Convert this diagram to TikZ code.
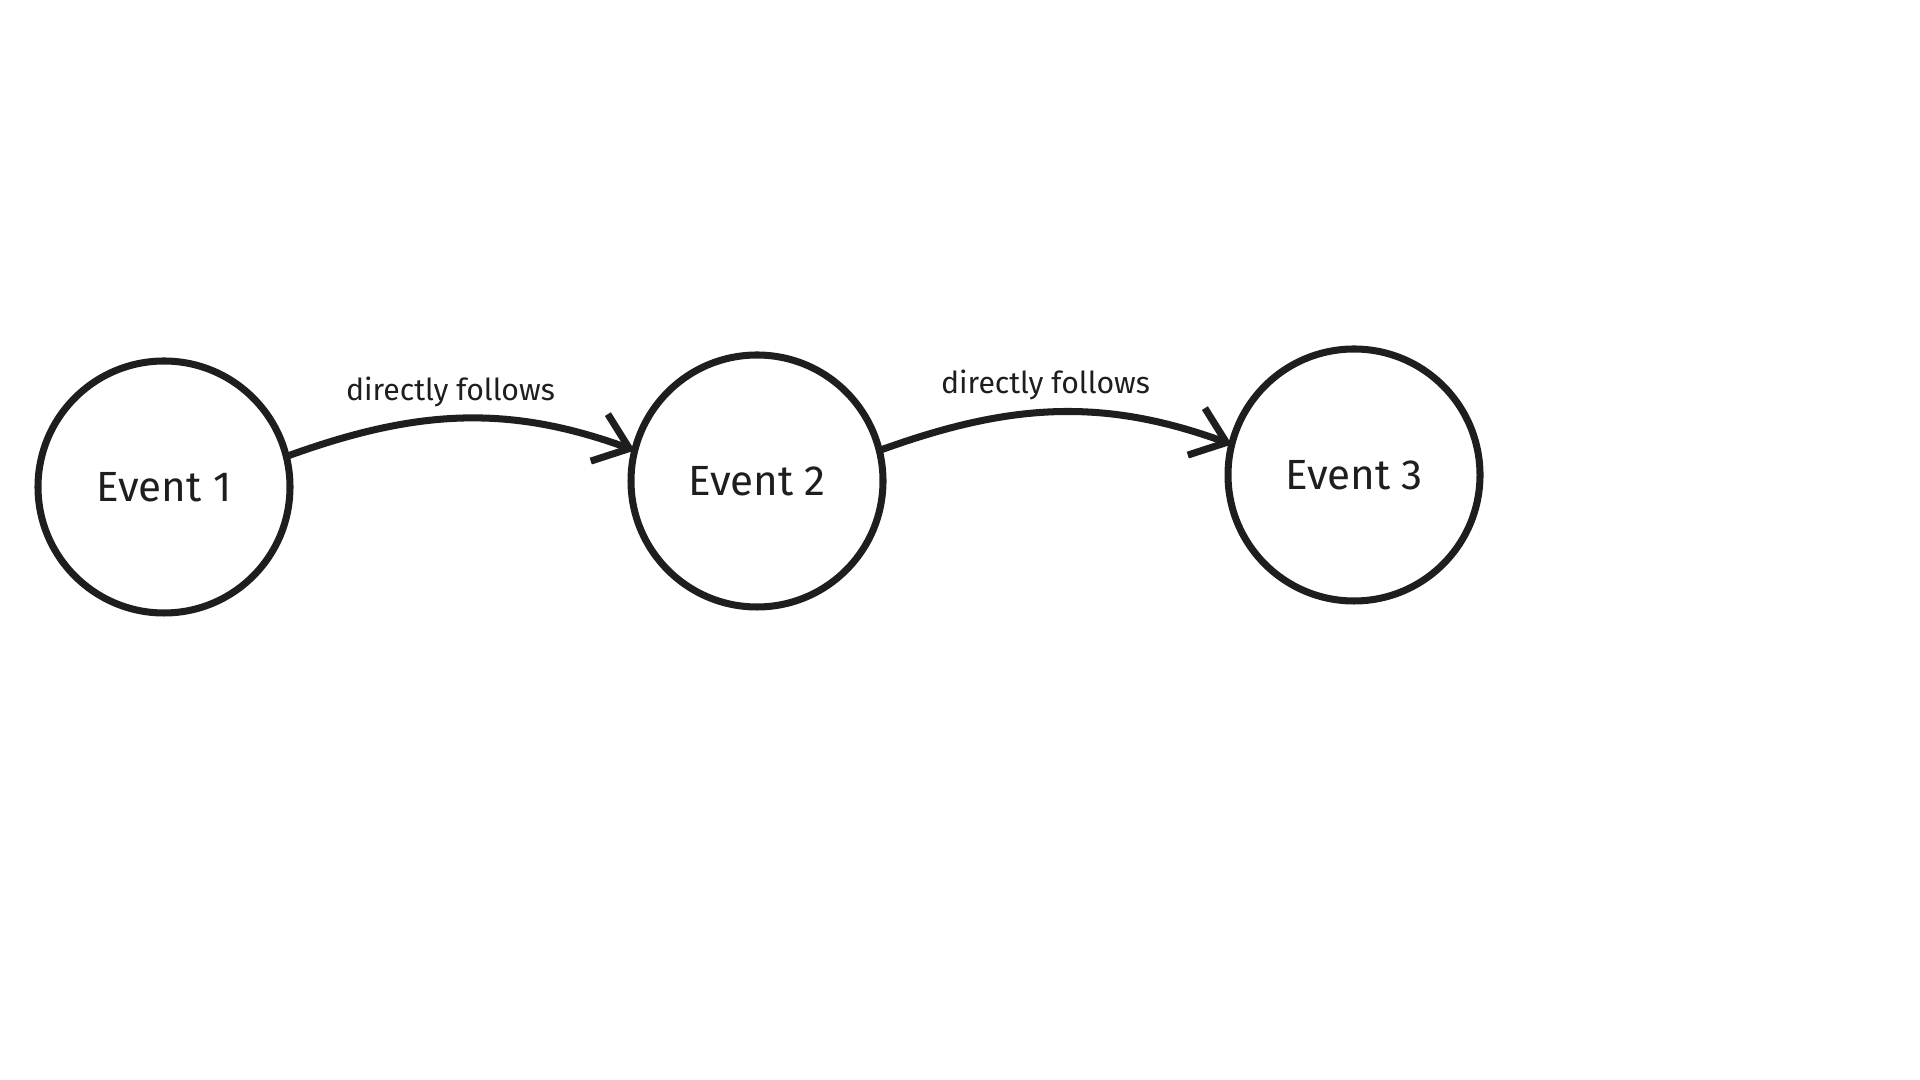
\documentclass[tikz,border=0pt]{standalone}
\usepackage{fontspec}
\setmainfont{Fira Sans}
\usetikzlibrary{arrows.meta, positioning}
\definecolor{ink}{HTML}{1E1E1E}

\begin{document}
\begin{tikzpicture}[
  node distance=3.41cm,
  event/.style={circle, draw=ink, line width=2pt, minimum size=2.52cm, inner sep=0pt, outer sep=0pt, text=ink, font=\fontsize{12}{14}\selectfont},
  flow/.style={draw=ink, line width=2pt, -{Straight Barb[length=3.2mm, width=5mm, line width=2pt]}},
  rel/.style={text=ink, font=\fontsize{8.6}{10}\selectfont, above=-1pt, xshift=-1mm}
]
\useasboundingbox (0,0) rectangle (19.2,10.8);

% Nodes
\node[event] (ev1) at (1.64,5.93) {Event 1};
\node[event, right=of ev1, yshift=0.6mm] (ev2) {Event 2};
\node[event, right=3.45cm of ev2, yshift=0.6mm] (ev3) {Event 3};

% Arrows
\draw[flow] (ev1.14) to[out=20, in=160] node[rel] (lab1) {directly follows} (ev2.166);
\draw[flow] (ev2.14) to[out=20, in=160] node[rel] (lab2) {directly follows} (ev3.166);

\end{tikzpicture}
\end{document}
